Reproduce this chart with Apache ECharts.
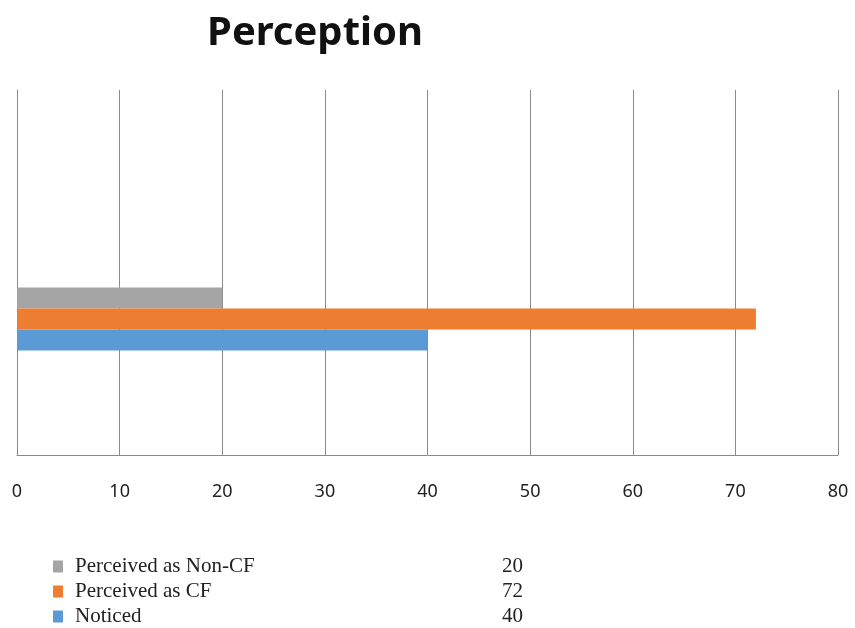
<!DOCTYPE html>
<html>
<head>
<meta charset="utf-8">
<script src="https://cdn.jsdelivr.net/npm/echarts@6/dist/echarts.min.js"></script>
<style>
  html, body { margin: 0; padding: 0; background: #fff; }
  #chart { width: 855px; height: 628px; }
</style>
</head>
<body>
<div id="chart"></div>
<script>
// Series names, values and colours (top bar first)
const seriesNames = ['Perceived as Non-CF', 'Perceived as CF', 'Noticed'];
const seriesValues = [20, 72, 40];
const seriesColors = ['#A5A5A5', '#ED7D31', '#5B9BD5'];
const categories = ['Perception'];
const xTicks = { min: 0, max: 80, interval: 10 };

const chart = echarts.init(document.getElementById('chart'));

const valueByName = {};
seriesNames.forEach((n, i) => { valueByName[n] = seriesValues[i]; });

const legendFont = 'Liberation Serif';

const option = {
  animation: false,
  title: {
    text: categories[0],
    left: 310,
    textAlign: 'center',
    top: 9,
    textStyle: { fontFamily: 'Noto Sans', fontWeight: 'bold', fontSize: 40, color: '#111' }
  },
  grid: [
    // outer grid carries the gridlines and tick labels
    { left: 17, right: 17, top: 90, bottom: 173 },
    // inner band holding the bars
    { left: 17, right: 17, top: 259, height: 120 }
  ],
  xAxis: [
    {
      gridIndex: 0, type: 'value', min: xTicks.min, max: xTicks.max, interval: xTicks.interval,
      axisLine: { show: true, lineStyle: { color: '#8a8a8a', width: 1 } },
      axisTick: { show: false },
      splitLine: { show: true, lineStyle: { color: '#8a8a8a', width: 1 } },
      axisLabel: { margin: 28, fontFamily: 'Noto Sans', fontSize: 18, color: '#222' }
    },
    {
      gridIndex: 1, type: 'value', min: xTicks.min, max: xTicks.max, interval: xTicks.interval,
      show: false
    }
  ],
  yAxis: [
    {
      gridIndex: 0, type: 'category', data: categories,
      axisLine: { show: true, lineStyle: { color: '#8a8a8a', width: 1 } },
      axisTick: { show: false }, axisLabel: { show: false }, splitLine: { show: false }
    },
    {
      gridIndex: 1, type: 'category', data: categories, show: false
    }
  ],
  legend: {
    orient: 'vertical',
    left: 53,
    top: 556,
    height: 72,
    padding: 0,
    itemWidth: 10,
    itemHeight: 12,
    itemGap: 4,
    icon: 'rect',
    data: seriesNames,
    formatter: name => '{n|' + name + '}{v|' + valueByName[name] + '}',
    textStyle: {
      fontFamily: legendFont,
      fontSize: 21,
      lineHeight: 20,
      color: '#222',
      rich: {
        n: { fontFamily: legendFont, fontSize: 21, lineHeight: 20, color: '#222', width: 421, padding: [0, 0, 0, 7] },
        v: { fontFamily: legendFont, fontSize: 21, lineHeight: 20, color: '#222', width: 27, align: 'right' }
      }
    }
  },
  series: seriesNames.map((name, i) => ({
    name: name,
    type: 'bar',
    xAxisIndex: 1,
    yAxisIndex: 1,
    barWidth: 21,
    barGap: '0%',
    itemStyle: { color: seriesColors[i] },
    data: [seriesValues[i]]
  }))
};

chart.setOption(option);
</script>
</body>
</html>
